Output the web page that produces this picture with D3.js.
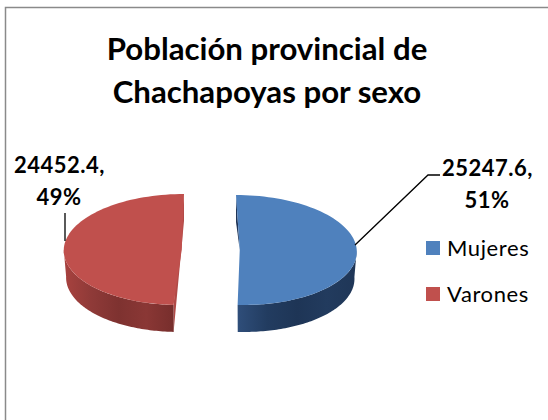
<!DOCTYPE html>
<html><head><meta charset="utf-8">
<style>html,body{margin:0;padding:0;background:#fff;overflow:hidden}</style>
<script src="https://cdn.jsdelivr.net/npm/d3@7/dist/d3.min.js"></script>
</head><body><svg id="c" width="548" height="420"></svg>
<script>
const categories = ["Mujeres", "Varones"];
const values = [25247.6, 24452.4];
const percents = ["51%", "49%"];
const titleLines = ["Población provincial de", "Chachapoyas por sexo"];

const colors = ["#4F81BD", "#C0504D"];
const wallColors = ["#1F3557", "#B04A47"];
const sideStops = [
  ["#2F4E7A", "#223C60", "#1E3556", "#223B5E", "#1F3657"],
  ["#A8423F", "#8F3A38", "#7E3230", "#8A3735", "#772E2C"]
];
const geom = [
  {cx: 239.75, cy: 250, rx: 117, ry: 55, lean: 3.75},
  {cx: 181.75, cy: 249.5, rx: 118, ry: 55.5, lean: -2.25}
];
const depth = 27, rimShrink = 0.98;

const svg = d3.select("#c");
svg.append("rect").attr("x", 5.5).attr("y", 7.5).attr("width", 600).attr("height", 500)
  .attr("fill", "#fff").attr("stroke", "#8a8a8a").attr("stroke-width", 1.5);

const arcs = d3.pie().sort(null)(values);
const defs = svg.append("defs");
const line = d3.line();
const font = "Lato, Carlito, Calibri, sans-serif";

function pt(g, a, drop = 0, k = 1) {
  const y = g.cy - g.ry * Math.cos(a);
  const x = g.cx + k * g.rx * Math.sin(a) + g.lean * (y - g.cy) / g.ry;
  return [x, y + drop];
}
function rim(g, a0, a1, drop, k) {
  const n = 80;
  return d3.range(n + 1).map(i => pt(g, a0 + (a1 - a0) * i / n, drop, k));
}

arcs.forEach((d, i) => {
  const g = geom[i];
  const lo = Math.max(d.startAngle, Math.PI / 2);
  const hi = Math.min(d.endAngle, 3 * Math.PI / 2);
  const grad = defs.append("linearGradient").attr("id", "side" + i);
  sideStops[i].forEach((c, j, s) => grad.append("stop")
    .attr("offset", j / (s.length - 1)).attr("stop-color", c));
  const side = rim(g, lo, hi, 0, 1).concat(rim(g, lo, hi, depth, rimShrink).reverse());

  const topPt = pt(g, i === 0 ? d.startAngle : d.endAngle);
  const endPt = pt(g, arcs[0].endAngle);
  const wall = i === 0
    ? [topPt, [topPt[0], topPt[1] + depth], [g.cx, g.cy]]
    : [topPt, [topPt[0], topPt[1] + depth], [endPt[0], endPt[1] + depth], endPt];
  svg.append("path").attr("d", line(wall) + "Z").attr("fill", wallColors[i]);
  svg.append("path").attr("d", line(side) + "Z")
    .attr("fill", `url(#side${i})`);
  const face = rim(g, d.startAngle, d.endAngle, 0, 1).concat([[g.cx, g.cy]]);
  svg.append("path").attr("d", line(face) + "Z").attr("fill", colors[i]);
});

// Leader lines
svg.append("path").attr("d", line([[355, 245], [428, 175], [440, 175]]))
  .attr("fill", "none").attr("stroke", "#000").attr("stroke-width", 1.3);
svg.append("path").attr("d", line([[65, 213], [65, 241]]))
  .attr("fill", "none").attr("stroke", "#000").attr("stroke-width", 1.3);

// Title
titleLines.forEach((t, i) => svg.append("text").text(t)
  .attr("x", 267).attr("y", 60 + i * 43).attr("text-anchor", "middle")
  .attr("font-family", font).attr("font-weight", 700).attr("font-size", 31.2).attr("fill", "#000"));

// Data labels
const fmt = d3.format(".1f");
const labelPos = [[487.5, 176, 487, 208], [59.5, 173, 59, 205]];
values.forEach((v, i) => {
  const p = labelPos[i];
  [[fmt(v) + ",", p[0], p[1]], [percents[i], p[2], p[3]]].forEach(l =>
    svg.append("text").text(l[0]).attr("x", l[1]).attr("y", l[2]).attr("text-anchor", "middle")
      .attr("font-family", font).attr("font-weight", 700).attr("font-size", 22)
      .attr("letter-spacing", 0.5).attr("fill", "#000"));
});

// Legend
const legendY = d3.scalePoint().domain(categories).range([241, 287]);
categories.forEach((c, i) => {
  svg.append("rect").attr("x", 426).attr("y", legendY(c)).attr("width", 14).attr("height", 14).attr("fill", colors[i]);
  svg.append("text").text(c).attr("x", 447).attr("y", legendY(c) + 15)
    .attr("font-family", font).attr("font-size", 22).attr("letter-spacing", 0.6).attr("fill", "#000");
});
</script></body></html>
